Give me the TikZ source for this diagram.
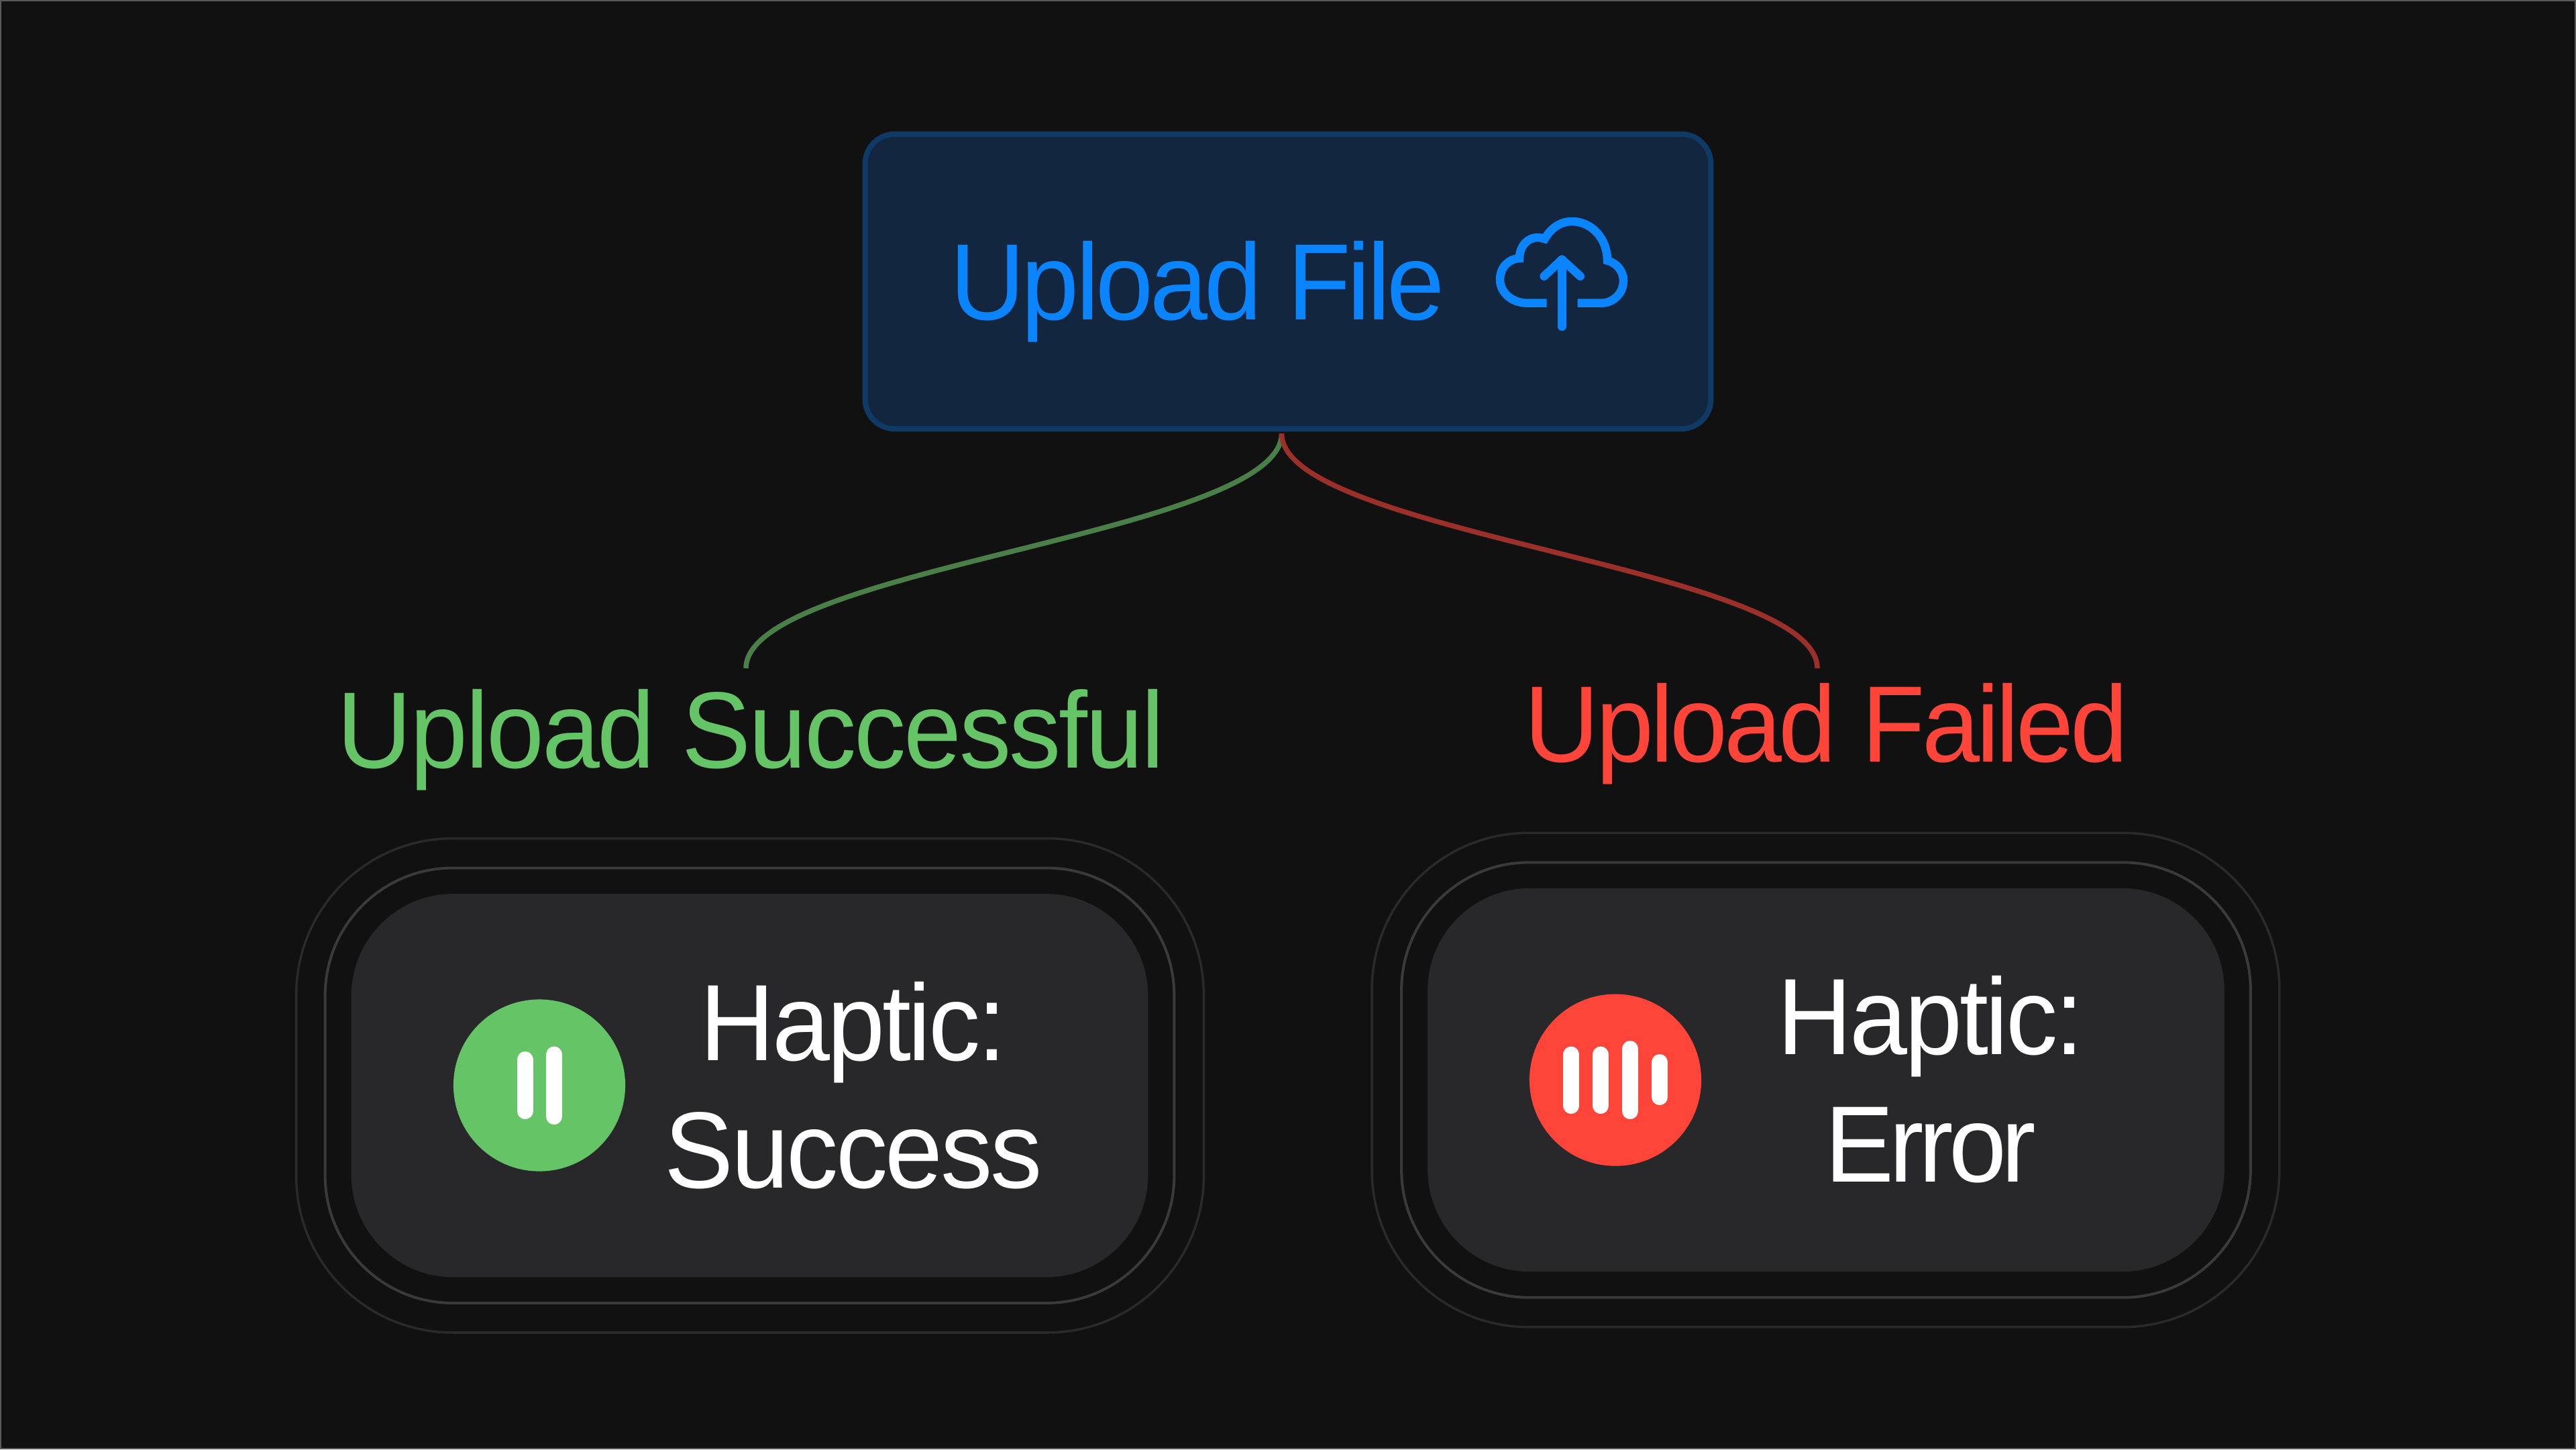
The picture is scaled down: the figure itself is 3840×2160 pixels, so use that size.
\documentclass[tikz,border=0pt]{standalone}
\usepackage{fontspec}
\setmainfont[FakeStretch=0.955,LetterSpace=-3]{Liberation Sans}

\definecolor{pagebg}{HTML}{111111}
\definecolor{pageedge}{HTML}{5A5A5A}
\definecolor{uploadfill}{HTML}{12273F}
\definecolor{uploadedge}{HTML}{0F3A66}
\definecolor{uploadblue}{HTML}{0A84FF}
\definecolor{okgreen}{HTML}{65C466}
\definecolor{okline}{HTML}{4A8048}
\definecolor{failred}{HTML}{FF453A}
\definecolor{failline}{HTML}{9A3029}
\definecolor{pillfill}{HTML}{28282A}
\definecolor{ringedge}{HTML}{3A3A3A}
\definecolor{haloedge}{HTML}{2A2A2A}

\tikzset{
  bigtext/.style={inner sep=0pt,anchor=base,align=center,font=\fontsize{46}{53.9}\selectfont},
  pillbox/.style={inner sep=0pt,minimum width=11.87cm,minimum height=5.71cm,rounded corners=1.52cm,fill=pillfill},
  ringbox/.style={inner sep=0pt,minimum width=12.65cm,minimum height=6.48cm,rounded corners=1.9cm,draw=ringedge,line width=0.04cm},
  halobox/.style={inner sep=0pt,minimum width=13.52cm,minimum height=7.36cm,rounded corners=2.33cm,draw=haloedge,line width=0.035cm},
  hapticdot/.style={circle,inner sep=0pt,minimum size=2.56cm},
  hapticbar/.style={white,line width=0.24cm,line cap=round},
  forkline/.style={line width=0.075cm}
}

\begin{document}
\begin{tikzpicture}[x=0.01cm,y=-0.01cm]
\useasboundingbox (0,0) rectangle (3840,2160);
\draw[fill=pagebg,draw=pageedge,line width=0.02cm] (1,1) rectangle (3839,2159);

\node[inner sep=0pt,minimum width=12.6cm,minimum height=4.39cm,rounded corners=0.44cm,fill=uploadfill,draw=uploadedge,line width=0.08cm] (upload) at (1920,419.5) {};
\node[bigtext,text=uploadblue] (uploadtext) at (1785,476) {Upload File};

% cloud
\draw[uploadblue,line width=0.125cm] (2305.7,451.7) -- (2276.7,451.7)
  .. controls (2254,451.7) and (2236,436) .. (2236,416.7)
  .. controls (2236,399) and (2248,386) .. (2265,385)
  .. controls (2265,366) and (2278,354) .. (2291.7,354)
  .. controls (2296,354) and (2300,355) .. (2302.7,356)
  .. controls (2312,340) and (2326,330) .. (2343.3,330)
  .. controls (2372,330) and (2396,355) .. (2396,388.3)
  .. controls (2410,392) and (2420,404) .. (2420,418.3)
  .. controls (2420,437) and (2405,451.7) .. (2386.7,451.7) -- (2351.7,451.7);
\draw[uploadblue,line width=0.125cm,line cap=round,line join=round] (2328.3,486.7) -- (2328.3,386.7);
\draw[uploadblue,line width=0.125cm,line cap=round,line join=round] (2301.7,411.7) -- (2328.3,386.7) -- (2355.7,411.7);

\node[bigtext,text=okgreen] (oklabel) at (1119.3,1144) {\addfontfeature{LetterSpace=-1.9}Upload Successful};
\node[bigtext,text=failred] (faillabel) at (2722.3,1135.7) {Upload Failed};

\coordinate (forktop) at (1910.5,646);
\coordinate (okend) at (1112,996);
\coordinate (failend) at (2709,996);
\draw[forkline,okline] (forktop) .. controls (1910.5,796) and (1112,846) .. (okend);
\draw[forkline,failline] (forktop) .. controls (1910.5,796) and (2709,846) .. (failend);

% success
\node[halobox] (okhalo) at (1118,1617.75) {};
\node[ringbox] (okring) at (1117.5,1617.75) {};
\node[pillbox] (okpill) at (1117.5,1617.75) {};
\node[hapticdot,fill=okgreen] (okdot) at (804,1617.5) {};
\draw[hapticbar] (782.5,1579) -- (782.5,1656);
\draw[hapticbar] (826,1571.5) -- (826,1664);
\node[bigtext,text=white] (oktext) at (1272,1770) {{\addfontfeature{LetterSpace=-2.5}Haptic:}\\{\addfontfeature{LetterSpace=-2.2}Success}};

% error
\node[halobox] (failhalo) at (2721.5,1609.5) {};
\node[ringbox] (failring) at (2722,1609.5) {};
\node[pillbox] (failpill) at (2722,1609.5) {};
\node[hapticdot,fill=failred] (faildot) at (2408,1609.6) {};
\draw[hapticbar] (2342,1571.5) -- (2342,1648);
\draw[hapticbar] (2386,1571.5) -- (2386,1648);
\draw[hapticbar] (2430,1563) -- (2430,1656);
\draw[hapticbar] (2474,1583) -- (2474,1635);
\node[bigtext,text=white] (failtext) at (2878,1761.5) {{\addfontfeature{LetterSpace=-2.5}Haptic:}\\{\addfontfeature{LetterSpace=-4.5}Error}};
\end{tikzpicture}
\end{document}
